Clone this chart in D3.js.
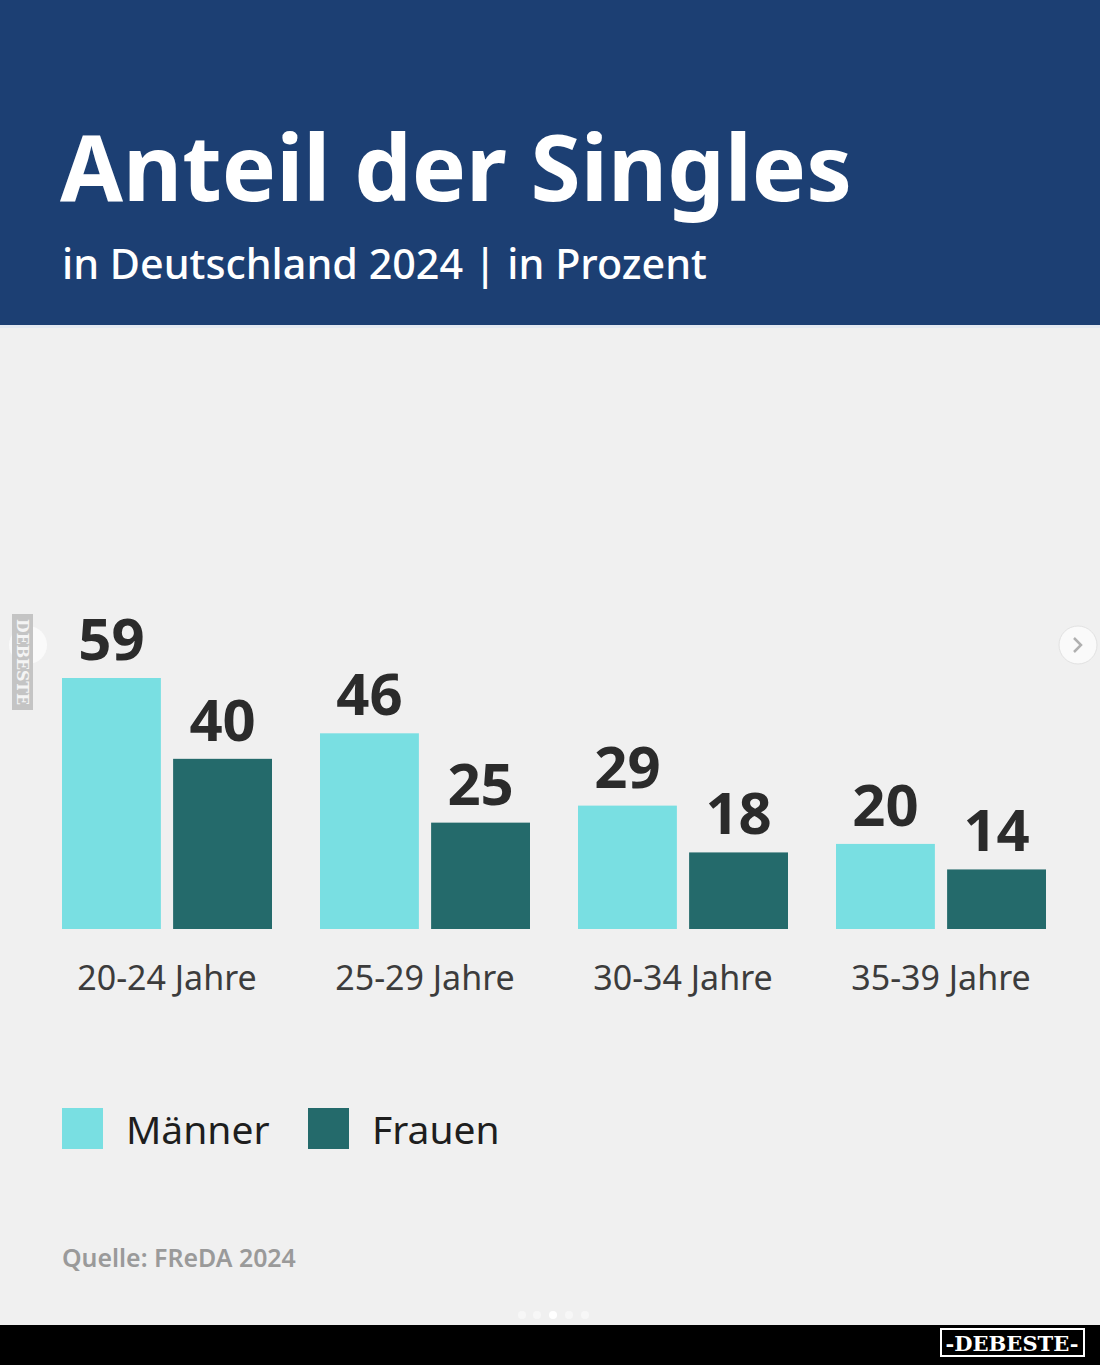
<!DOCTYPE html>
<html>
<head>
<meta charset="utf-8">
<script src="https://cdn.jsdelivr.net/npm/d3@7"></script>
<style>
  html, body { margin: 0; padding: 0; background: #f0f0f0; }
  svg { display: block; font-family: "Noto Sans", "Open Sans", sans-serif; }
</style>
</head>
<body>
<svg id="chart" width="1100" height="1365"></svg>
<script>
// data
var categories = ["20-24 Jahre", "25-29 Jahre", "30-34 Jahre", "35-39 Jahre"];
var series = ["Männer", "Frauen"];
var maenner = [59, 46, 29, 20];
var frauen = [40, 25, 18, 14];
var colors = ["#79dfe2", "#246a6b"];

var W = 1100, H = 1365;
var svg = d3.select("#chart");

// fit a text element to a target width by scaling font size
function fitWidth(sel, target) {
  var len = sel.node().getComputedTextLength();
  var fs = parseFloat(sel.attr("font-size"));
  sel.attr("font-size", fs * target / len);
}

// background + header
svg.append("rect").attr("width", W).attr("height", H).attr("fill", "#f0f0f0");
svg.append("rect").attr("width", W).attr("height", 325).attr("fill", "#1c3f73");
svg.append("rect").attr("y", 325).attr("width", W).attr("height", 3).attr("fill", "#e4e9f1");

var title = svg.append("text")
  .attr("x", 60).attr("y", 201)
  .attr("font-size", 96).attr("font-weight", 700)
  .attr("fill", "#fff")
  .text("Anteil der Singles");
fitWidth(title, 792);

var sub = svg.append("text")
  .attr("x", 62).attr("y", 279)
  .attr("font-size", 44).attr("font-weight", 500)
  .attr("fill", "#fff")
  .text("in Deutschland 2024 | in Prozent");
fitWidth(sub, 645);

// bars
var baseline = 929;
var x0 = d3.scaleBand().domain(categories).range([62, 1094]).paddingInner(0).paddingOuter(0);
var x1 = d3.scaleBand().domain(series).range([0, 210]).paddingInner(0.11);
var y = d3.scaleLinear().domain([0, 59]).range([baseline, 678]);

var rows = categories.map(function(c, i) {
  return { cat: c, vals: [maenner[i], frauen[i]] };
});

var g = svg.append("g");
var grp = g.selectAll("g.grp").data(rows).join("g")
  .attr("class", "grp")
  .attr("transform", function(d) { return "translate(" + x0(d.cat) + ",0)"; });

grp.selectAll("rect").data(function(d) {
  return d.vals.map(function(v, j) { return { s: series[j], v: v, j: j }; });
}).join("rect")
  .attr("x", function(d) { return x1(d.s); })
  .attr("y", function(d) { return y(d.v); })
  .attr("width", x1.bandwidth())
  .attr("height", function(d) { return baseline - y(d.v); })
  .attr("fill", function(d) { return colors[d.j]; });

grp.selectAll("text.val").data(function(d) {
  return d.vals.map(function(v, j) { return { s: series[j], v: v }; });
}).join("text")
  .attr("class", "val")
  .attr("x", function(d) { return x1(d.s) + x1.bandwidth() / 2; })
  .attr("y", function(d) { return y(d.v) - 18; })
  .attr("text-anchor", "middle")
  .attr("font-size", 58).attr("font-weight", 700)
  .attr("fill", "#2b2b2b")
  .text(function(d) { return d.v; });

// category axis labels
grp.append("text")
  .attr("x", 105)
  .attr("y", 990)
  .attr("text-anchor", "middle")
  .attr("font-size", 34)
  .attr("fill", "#3c3c3c")
  .text(function(d) { return d.cat; });

// legend
var leg = svg.append("g").attr("transform", "translate(62,1108)");
var legX = [0, 246];
series.forEach(function(s, j) {
  leg.append("rect").attr("x", legX[j]).attr("y", 0)
    .attr("width", 41).attr("height", 41).attr("fill", colors[j]);
  leg.append("text").attr("x", legX[j] + 64).attr("y", 36)
    .attr("font-size", 39).attr("fill", "#1e1e1e").text(s);
});

// source
var src = svg.append("text")
  .attr("x", 62).attr("y", 1267)
  .attr("font-size", 24).attr("font-weight", 600)
  .attr("fill", "#9a9a9a")
  .text("Quelle: FReDA 2024");
fitWidth(src, 234);

// carousel bits
svg.append("circle").attr("cx", 1078).attr("cy", 645).attr("r", 19)
  .attr("fill", "#fafafa").attr("stroke", "#e2e2e2");
svg.append("path").attr("d", "M1074,638 L1081,645 L1074,652")
  .attr("fill", "none").attr("stroke", "#b0b0b0").attr("stroke-width", 2.5);
svg.append("circle").attr("cx", 28).attr("cy", 645).attr("r", 19)
  .attr("fill", "#fafafa");
[522, 537, 553, 569, 585].forEach(function(cx, i) {
  svg.append("circle").attr("cx", cx).attr("cy", 1315).attr("r", 4)
    .attr("fill", i == 2 ? "#ffffff" : "#f7f7f7");
});

// side badge
svg.append("rect").attr("x", 12).attr("y", 614).attr("width", 21).attr("height", 96)
  .attr("fill", "#c4c4c4");
var badge = svg.append("text")
  .attr("transform", "translate(17,662) rotate(90)")
  .attr("text-anchor", "middle")
  .attr("font-family", "DejaVu Serif").attr("font-weight", 700)
  .attr("font-size", 15)
  .attr("fill", "#f4f4f4")
  .text("DEBESTE");
fitWidth(badge, 86);

// bottom bar
svg.append("rect").attr("y", 1325).attr("width", W).attr("height", 40).attr("fill", "#000");
svg.append("rect").attr("x", 941).attr("y", 1329).attr("width", 143).attr("height", 27)
  .attr("fill", "none").attr("stroke", "#fff").attr("stroke-width", 2);
var logo = svg.append("text")
  .attr("x", 1012).attr("y", 1351)
  .attr("text-anchor", "middle")
  .attr("font-family", "DejaVu Serif").attr("font-weight", 700)
  .attr("font-size", 22).attr("fill", "#fff")
  .text("-DEBESTE-");
fitWidth(logo, 133);
</script>
</body>
</html>
